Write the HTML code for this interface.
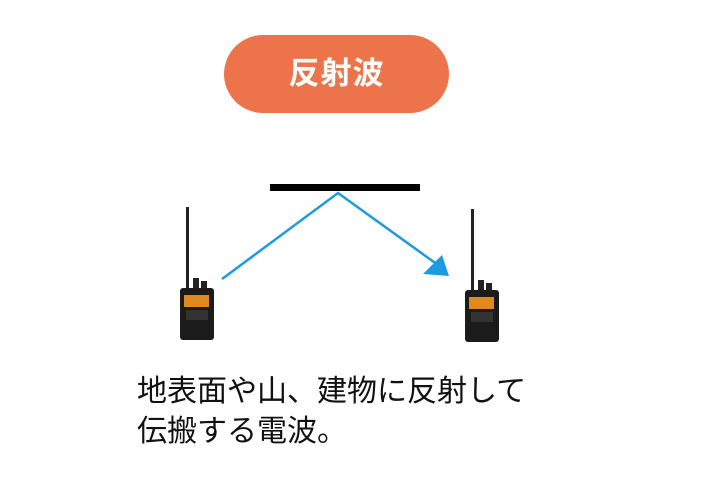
<!DOCTYPE html>
<html><head><meta charset="utf-8"><style>
html,body{margin:0;padding:0;background:#fff;}
body{width:706px;height:492px;position:relative;overflow:hidden;}
.pill{position:absolute;left:224px;top:35px;width:225px;height:78px;border-radius:39px;background:#ED744A;color:#fff;font:bold 31px "Liberation Sans","Noto Sans CJK JP",sans-serif;text-align:center;line-height:78px;letter-spacing:1px;}
.txt{position:absolute;left:137px;top:372px;font:30px "Liberation Sans","Noto Sans CJK JP",sans-serif;line-height:40px;color:#111;white-space:nowrap;}
svg{position:absolute;left:0;top:0;}
</style></head><body>
<div class="pill">反射波</div>
<svg width="706" height="492">
<rect x="270" y="184" width="150" height="7" fill="#000"/>
<polyline points="222,279 338,193 438,265" fill="none" stroke="#1E9BE0" stroke-width="2.5"/>
<polygon points="449,276 423,274 442,255" fill="#1E9BE0"/>
<g id="r1">
<rect x="186" y="207" width="3" height="82" fill="#222"/>
<rect x="193" y="278" width="6" height="12" fill="#222"/>
<rect x="201" y="281" width="6" height="9" fill="#222"/>
<rect x="180" y="288" width="34" height="52" rx="3" fill="#1b1b1b"/>
<rect x="184" y="295" width="25" height="12" fill="#E08A1E"/>
<rect x="186" y="310" width="22" height="10" fill="#333"/>
</g>
<use href="#r1" transform="translate(285,2)"/>
</svg>
<div class="txt">地表面や山、建物に反射して<br>伝搬する電波。</div>
</body></html>
